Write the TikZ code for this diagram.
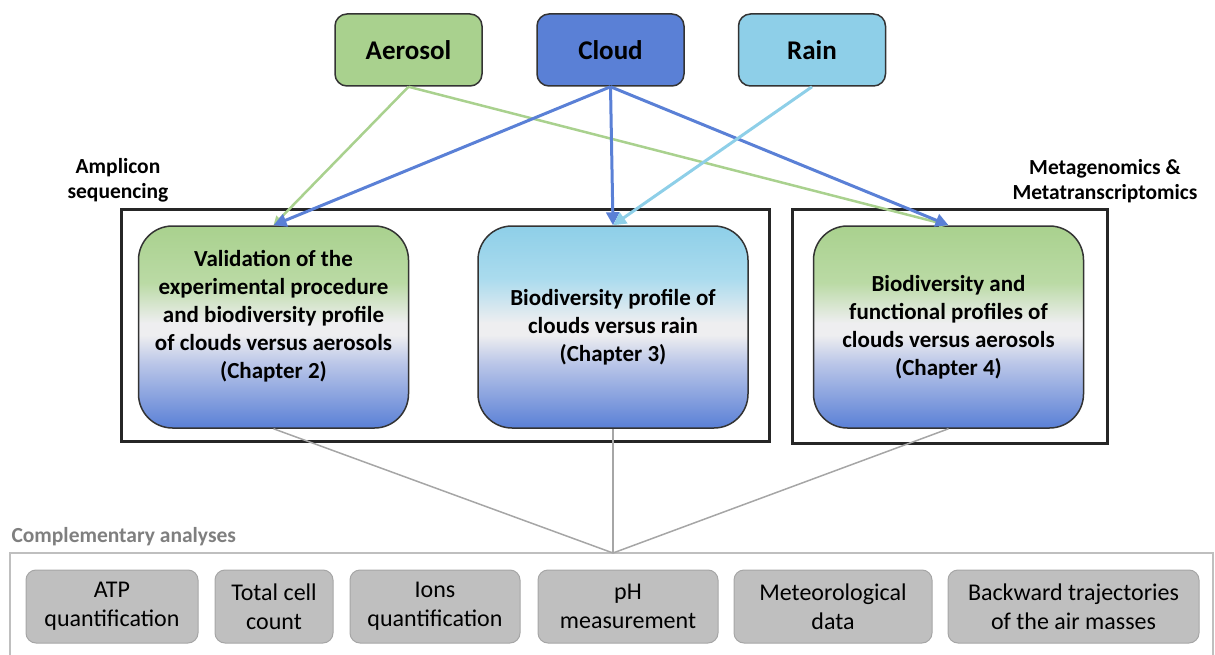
\documentclass[tikz,border=0pt]{standalone}
\usepackage{fontspec}
\setmainfont{Carlito}
\usepackage{xcolor}
\usepackage{tikz}
\usetikzlibrary{arrows.meta}
\definecolor{aerosolgreen}{RGB}{169, 209, 142}
\definecolor{cloudblue}{RGB}{90, 128, 214}
\definecolor{rainblue}{RGB}{142, 207, 232}
\definecolor{paleband}{RGB}{238, 238, 240}
\definecolor{lavender}{RGB}{186, 198, 232}
\definecolor{framegray}{RGB}{38, 38, 38}
\definecolor{analysisgray}{RGB}{191, 191, 191}
\definecolor{labelgray}{RGB}{127, 127, 127}
\pgfdeclareverticalshading{greenband}{100bp}{color(0bp)=(cloudblue); color(25bp)=(cloudblue); color(41bp)=(lavender); color(48bp)=(paleband); color(51bp)=(paleband); color(61bp)=(aerosolgreen!80!white); color(75bp)=(aerosolgreen); color(100bp)=(aerosolgreen)}
\pgfdeclareverticalshading{rainband}{100bp}{color(0bp)=(cloudblue); color(25bp)=(cloudblue); color(41bp)=(lavender); color(48bp)=(paleband); color(51bp)=(paleband); color(62bp)=(rainblue!75!white); color(75bp)=(rainblue); color(100bp)=(rainblue)}

\begin{document}
\begin{tikzpicture}[x=1pt, y=-1pt,
		sample/.style={draw=black!80, line width=1.5pt, rounded corners=12pt, minimum width=147pt, minimum height=72pt, inner sep=0pt, font=\fontsize{27}{32}\selectfont\bfseries},
		chapter/.style={draw=black!80, line width=1.5pt, rounded corners=34pt, minimum width=270pt, minimum height=202pt, align=center, shade, font=\fontsize{23}{28}\selectfont\bfseries},
		analysis/.style={draw=black!35, fill=analysisgray, line width=1pt, rounded corners=10pt, minimum height=73pt, inner sep=0pt, align=center, font=\fontsize{24}{29}\selectfont},
		method/.style={align=center, font=\fontsize{21.5}{25}\selectfont\bfseries},
		feed/.style={line width=3pt, -{Triangle[length=13pt, width=13pt]}},
		link/.style={draw=black!35, line width=1.5pt}]
			\useasboundingbox (0,0) rectangle (1215,655);
			% samples
			\node[sample, fill=aerosolgreen] (aerosol) at (408.5, 50) {Aerosol};
			\node[sample, fill=cloudblue] (cloud) at (610.5, 50) {Cloud};
			\node[sample, fill=rainblue] (rain) at (812, 50) {Rain};
			% frames of the methods
			\draw[framegray, line width=3pt] (121, 210) rectangle (769, 441);
			\draw[framegray, line width=3pt] (792, 210) rectangle (1107, 443);
			\node[method] (amplicon) at (118, 180) {Amplicon\\sequencing};
			\node[method] (meta) at (1105, 181) {Metagenomics \&\\Metatranscriptomics};
			% chapters
			\node[chapter, shading=greenband] (chtwo) at (273.5, 327) {Validation of the\\experimental procedure\\and biodiversity profile\\of clouds versus aerosols\\(Chapter 2)\rule[-26pt]{0pt}{1pt}};
			\node[chapter, shading=rainband] (chthree) at (613, 327) {Biodiversity profile of\\clouds versus rain\\(Chapter 3)};
			\node[chapter, shading=greenband] (chfour) at (948.5, 327) {Biodiversity and\\functional profiles of\\clouds versus aerosols\\(Chapter 4)};
			% sample connectors
			\draw[feed, aerosolgreen, line width=2.5pt, -{Triangle[length=9pt, width=9pt]}] (aerosol.south) -- (chtwo.north);
			\draw[feed, aerosolgreen, line width=2.5pt, -{Triangle[length=9pt, width=9pt]}] (aerosol.south) -- (chfour.north);
			\draw[feed, cloudblue] (cloud.south) -- (chtwo.north);
			\draw[feed, cloudblue] (cloud.south) -- (chthree.north);
			\draw[feed, cloudblue] (cloud.south) -- (chfour.north);
			\draw[feed, rainblue] (rain.south) -- (chthree.north);
			% complementary analyses
			\node[anchor=west, text=labelgray, font=\fontsize{21.5}{25}\selectfont\bfseries] (complabel) at (8, 537) {Complementary analyses};
			\draw[analysisgray, line width=2.5pt] (10, 660) -- (10, 553) -- (1213, 553) -- (1213, 660);
			\coordinate (hub) at (613, 553);
			\draw[link] (chtwo.south) -- (hub);
			\draw[link] (chthree.south) -- (hub);
			\draw[link] (chfour.south) -- (hub);
			\node[analysis, minimum width=172pt] (atp) at (112, 606.5) {ATP\\quantification};
			\node[analysis, minimum width=118pt] (cells) at (274, 606.5) {Total cell\\count};
			\node[analysis, minimum width=170pt] (ions) at (435, 606.5) {Ions\\quantification};
			\node[analysis, minimum width=180pt] (ph) at (628, 606.5) {pH\\measurement};
			\node[analysis, minimum width=198pt] (meteo) at (833, 606.5) {Meteorological\\data};
			\node[analysis, minimum width=251pt] (backward) at (1073.5, 606.5) {Backward trajectories\\of the air masses};
		\end{tikzpicture}
\end{document}
